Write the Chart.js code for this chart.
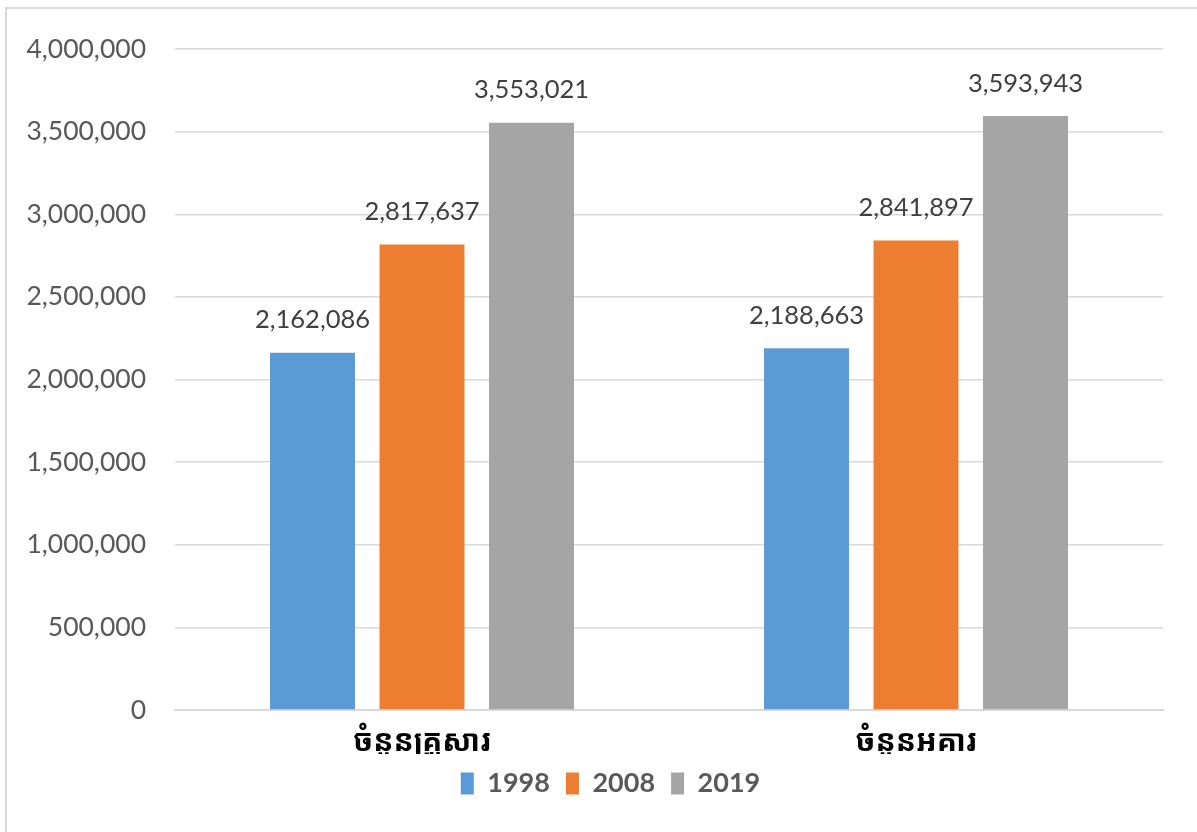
<!DOCTYPE html>
<html>
<head>
<meta charset="utf-8">
<script src="https://cdn.jsdelivr.net/npm/chart.js@4.4.1/dist/chart.umd.min.js"></script>
<style>
    html, body { margin: 0; padding: 0; background: #fff; }
    #wrap { position: relative; width: 1197px; height: 832px; overflow: hidden; }
    #frame { position: absolute; left: 5px; top: 7px; width: 1300px; height: 900px;
             border-top: 2px solid #d9d9d9; border-left: 2px solid #d9d9d9; }
    #chart { position: absolute; left: 0; top: 0; }
</style>
</head>
<body>
<div id="wrap">
    <div id="frame"></div>
    <canvas id="chart" width="1197" height="832"></canvas>
</div>
<script>
// chart data
const categories = ["ចំនួនគ្រួសារ", "ចំនួនអគារ"];
const years = ["1998", "2008", "2019"];
const values1998 = [2162086, 2188663];
const values2008 = [2817637, 2841897];
const values2019 = [3553021, 3593943];
const yTicks = [0, 500000, 1000000, 1500000, 2000000, 2500000, 3000000, 3500000, 4000000];

const colors = ['#5B9BD5', '#ED7D31', '#A5A5A5'];
const seriesValues = [values1998, values2008, values2019];
const baseFont = "Lato, 'Open Sans', sans-serif";
const khmerFont = "'Khmer OS', 'Noto Sans Khmer', 'Noto Sans', sans-serif";

// draws the number above each bar
const valueLabels = {
    id: 'valueLabels',
    afterDatasetsDraw(chart) {
        const ctx = chart.ctx;
        ctx.save();
        ctx.font = "25.5px " + baseFont;
        ctx.fillStyle = '#404040';
        ctx.textAlign = 'center';
        ctx.textBaseline = 'bottom';
        chart.data.datasets.forEach((ds, i) => {
            chart.getDatasetMeta(i).data.forEach((bar, j) => {
                ctx.fillText(ds.data[j].toLocaleString('en-US'), bar.x, bar.y - 20);
            });
        });
        ctx.restore();
    }
};

// legend sits a bit right of the canvas middle in the original
const shiftLegend = {
    id: 'shiftLegend',
    afterLayout(chart) {
        chart.legend.left += 29;
        chart.legend.right += 29;
    }
};

const ctx = document.getElementById('chart').getContext('2d');
new Chart(ctx, {
    type: 'bar',
    data: {
        labels: categories,
        datasets: years.map((y, i) => ({
            label: y,
            data: seriesValues[i],
            backgroundColor: colors[i],
            categoryPercentage: 0.665,
            barPercentage: 0.776
        }))
    },
    options: {
        responsive: false,
        animation: false,
        layout: { padding: { top: 49, right: 34, left: 0, bottom: 25 } },
        scales: {
            x: {
                grid: { display: false },
                border: { color: '#d9d9d9', width: 2 },
                ticks: {
                    color: '#000',
                    font: { family: khmerFont, size: 30, weight: 'bold' },
                    padding: 6
                },
                afterFit(scale) { scale.height = 44; }
            },
            y: {
                min: 0,
                max: 4000000,
                afterBuildTicks(scale) { scale.ticks = yTicks.map(v => ({ value: v })); },
                grid: { color: '#d9d9d9', lineWidth: 1.5, drawTicks: false },
                border: { display: false },
                ticks: {
                    color: '#595959',
                    font: { family: baseFont, size: 26.5 },
                    padding: 29,
                    callback: v => v.toLocaleString('en-US')
                },
                afterFit(scale) {
                    scale.width = 175;
                    scale.paddingTop = 0;
                    scale.paddingBottom = 0;
                }
            }
        },
        plugins: {
            legend: {
                position: 'bottom',
                labels: {
                    boxWidth: 13,
                    boxHeight: 22,
                    color: '#595959',
                    padding: 16,
                    font: { family: baseFont, size: 27, weight: 'bold' }
                }
            },
            tooltip: { enabled: false }
        }
    },
    plugins: [valueLabels, shiftLegend]
});
</script>
</body>
</html>
